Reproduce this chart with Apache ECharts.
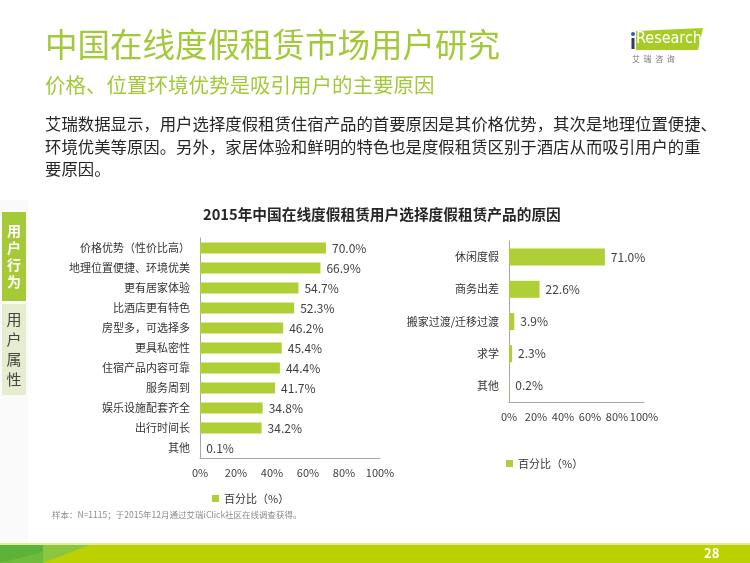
<!DOCTYPE html>
<html><head><meta charset="utf-8">
<script src="https://cdn.jsdelivr.net/npm/echarts@6/dist/echarts.min.js"></script>
<style>html,body{margin:0;padding:0;background:#fff}#c{width:750px;height:563px}</style>
</head><body><div id="c"></div>
<script>
const reasonCategories = ['价格优势（性价比高）','地理位置便捷、环境优美','更有居家体验','比酒店更有特色','房型多，可选择多','更具私密性','住宿产品内容可靠','服务周到','娱乐设施配套齐全','出行时间长','其他'];
const reasonValues = [70.0, 66.9, 54.7, 52.3, 46.2, 45.4, 44.4, 41.7, 34.8, 34.2, 0.1];
const purposeCategories = ['休闲度假','商务出差','搬家过渡/迁移过渡','求学','其他'];
const purposeValues = [71.0, 22.6, 3.9, 2.3, 0.2];
const seriesName = '百分比（%）';
const chartTitle = '2015年中国在线度假租赁用户选择度假租赁产品的原因';
const pageTitle = '中国在线度假租赁市场用户研究';
const pageSubtitle = '价格、位置环境优势是吸引用户的主要原因';
const bodyLines = ['艾瑞数据显示，用户选择度假租赁住宿产品的首要原因是其价格优势，其次是地理位置便捷、','环境优美等原因。另外，家居体验和鲜明的特色也是度假租赁区别于酒店从而吸引用户的重','要原因。'];
const footnote = '样本：N=1115；于2015年12月通过艾瑞iClick社区在线调查获得。';
const pageNumber = '28';

const FONT = '"Noto Sans CJK SC","Noto Sans",sans-serif';
const GREEN = '#a2c93a';
const BAR = '#aecf35';
const chart = echarts.init(document.getElementById('c'), null, {renderer:'canvas'});

function xAxis(gi){
  return {type:'value', gridIndex:gi, min:0, max:100, interval:20,
    axisLine:{show:true, lineStyle:{color:'#a6a6a6'}}, axisTick:{show:false}, splitLine:{show:false},
    axisLabel:{formatter:'{value}%', color:'#404040', fontSize:11, fontFamily:FONT, margin:9, interval:0}};
}
function yAxis(gi, cats){
  return {type:'category', gridIndex:gi, data:cats, inverse:true,
    axisLine:{show:true, lineStyle:{color:'#a6a6a6'}}, axisTick:{show:false},
    axisLabel:{color:'#333', fontSize:11, fontFamily:FONT, margin:10, interval:0}};
}
const labelOpt = {show:true, position:'right', distance:6, color:'#404040', fontSize:12, fontFamily:FONT,
  formatter:p=>p.value.toFixed(1)+'%'};

const lines = bodyLines.map((t,i)=>({type:'text', left:45, top:116+i*22.5,
  style:{text:t, fill:'#262626', font:'16.4px '+FONT}}));

chart.setOption({
  animation:false,
  textStyle:{fontFamily:FONT},
  title:{text:chartTitle, left:198, top:202, textStyle:{fontSize:14.7, fontWeight:'bold', color:'#262626', fontFamily:FONT}},
  grid:[{left:200, width:180, top:238, height:220},{left:509, width:135, top:241, height:161}],
  xAxis:[xAxis(0), xAxis(1)],
  yAxis:[yAxis(0, reasonCategories), yAxis(1, purposeCategories)],
  legend:[
    {data:[seriesName], left:207, top:488, icon:'rect', itemWidth:7, itemHeight:7, itemGap:4,
     textStyle:{fontSize:11, color:'#333', fontFamily:FONT}},
    {data:[seriesName], left:501, top:453, icon:'rect', itemWidth:7, itemHeight:7, itemGap:4,
     textStyle:{fontSize:11, color:'#333', fontFamily:FONT}}
  ],
  series:[
    {type:'bar', name:seriesName, xAxisIndex:0, yAxisIndex:0, data:reasonValues, barWidth:11,
     itemStyle:{color:BAR}, label:labelOpt},
    {type:'bar', name:seriesName, xAxisIndex:1, yAxisIndex:1, data:purposeValues, barWidth:17,
     itemStyle:{color:BAR}, label:labelOpt}
  ],
  graphic:[
    {type:'rect', shape:{x:0,y:200,width:28,height:343}, style:{fill:'#fafafa'}, z:-10},
    {type:'text', left:45, top:28, style:{text:pageTitle, fill:GREEN, font:'32.5px '+FONT}},
    {type:'text', left:45, top:75, style:{text:pageSubtitle, fill:GREEN, font:'20.5px '+FONT}},
    ...lines,
    // logo
    {type:'polygon', shape:{points:[[636,31],[703,28],[698,50],[636,50]]}, style:{fill:'#a8cc27'}},
    {type:'circle', shape:{cx:633,cy:34,r:2}, style:{fill:'#2b5fa8'}},
    {type:'rect', shape:{x:631.5,y:38,width:3,height:11}, style:{fill:'#2b3a67'}},
    {type:'text', left:636, top:31, style:{text:'Research', fill:'#fff', font:'16px "Liberation Sans Narrow","DejaVu Sans Condensed",sans-serif'}},
    {type:'text', left:632, top:55, style:{text:'艾  瑞  咨  询', fill:'#777', font:'8px '+FONT}},
    // side tabs
    {type:'rect', shape:{x:2,y:212,width:24,height:89}, style:{fill:'#a6c937'}},
    {type:'text', x:14, y:256, style:{text:'用\n户\n行\n为', fill:'#fff', font:'bold 14px '+FONT, align:'center', verticalAlign:'middle', lineHeight:17}},
    {type:'rect', shape:{x:2,y:304,width:24,height:91}, style:{fill:'#e5ecd0'}},
    {type:'text', x:14, y:349, style:{text:'用\n户\n属\n性', fill:'#444', font:'15px '+FONT, align:'center', verticalAlign:'middle', lineHeight:20}},
    // footnote
    {type:'text', left:52, top:511, style:{text:footnote, fill:'#8c8c8c', font:'8.5px '+FONT}},
    // footer
    {type:'rect', shape:{x:0,y:543,width:750,height:2}, style:{fill:'#e2ec9a'}},
    {type:'rect', shape:{x:0,y:545,width:750,height:18}, style:{fill:'#bcd200'}},
    {type:'polygon', shape:{points:[[43,545],[90,545],[43,563]]}, style:{fill:'#8cc63e'}},
    {type:'rect', shape:{x:0,y:545,width:43,height:18}, style:{fill:'#5bb33a'}},
    {type:'polygon', shape:{points:[[0,563],[43,552],[43,563]]}, style:{fill:'#6fbc3c'}},
    {type:'text', left:704, top:547, style:{text:pageNumber, fill:'#fff', font:'bold 13px '+FONT}}
  ]
});
</script></body></html>
